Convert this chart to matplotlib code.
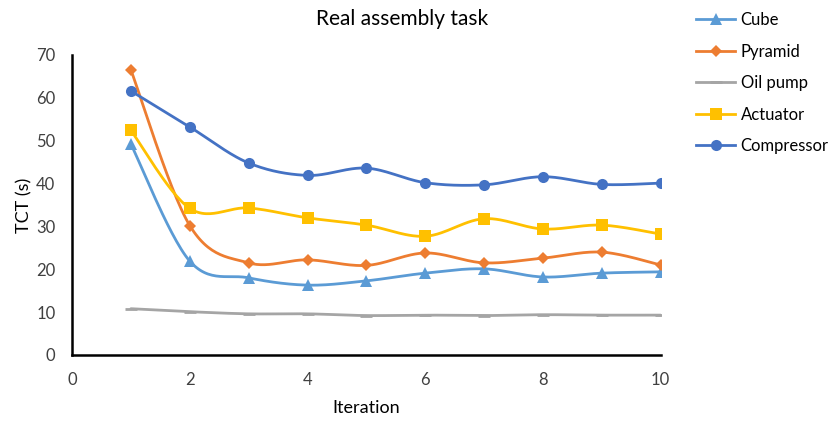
import numpy as np
import matplotlib
matplotlib.use("Agg")
import matplotlib.pyplot as plt

plt.rcParams['font.family'] = ['Lato', 'DejaVu Sans']

iterations = [1, 2, 3, 4, 5, 6, 7, 8, 9, 10]
cube = [49.2, 21.9, 18.0, 16.3, 17.3, 19.1, 20.1, 18.2, 19.1, 19.4]
pyramid = [66.5, 30.2, 21.5, 22.2, 20.9, 23.8, 21.5, 22.6, 24.0, 21.0]
oil_pump = [10.8, 10.1, 9.6, 9.6, 9.2, 9.3, 9.2, 9.4, 9.3, 9.3]
actuator = [52.4, 34.2, 34.3, 32.0, 30.3, 27.7, 31.8, 29.4, 30.3, 28.2]
compressor = [61.6, 53.2, 44.8, 41.9, 43.6, 40.2, 39.7, 41.6, 39.8, 40.1]

series = [
    ("Cube", cube, "#5B9BD5", "^", 8),
    ("Pyramid", pyramid, "#ED7D31", "D", 6),
    ("Oil pump", oil_pump, "#A5A5A5", "_", 9),
    ("Actuator", actuator, "#FFC000", "s", 8),
    ("Compressor", compressor, "#4472C4", "o", 8),
]


def smooth(xs, ys, n=30):
    """Cardinal (Catmull-Rom) Bezier smoothing through every point."""
    p = np.column_stack([xs, ys]).astype(float)
    ext = np.vstack([p[0], p, p[-1]])
    out = []
    t = np.linspace(0, 1, n)[:, None]
    for i in range(len(p) - 1):
        p0, p3 = ext[i + 1], ext[i + 2]
        c1 = p0 + (ext[i + 2] - ext[i]) / 6.0
        c2 = p3 - (ext[i + 3] - ext[i + 1]) / 6.0
        seg = ((1 - t) ** 3) * p0 + 3 * ((1 - t) ** 2) * t * c1 \
            + 3 * (1 - t) * t ** 2 * c2 + t ** 3 * p3
        out.append(seg if i == 0 else seg[1:])
    out = np.vstack(out)
    return out[:, 0], out[:, 1]


fig = plt.figure(figsize=(8.29, 4.21), dpi=100)
ax = fig.add_axes([0.0869, 0.1568, 0.7101, 0.7126])

handles = []
for name, vals, color, marker, ms in series:
    sx, sy = smooth(iterations, vals)
    ax.plot(sx, sy, color=color, lw=2.0, solid_capstyle='round', zorder=2)
    mew = 2.0 if marker == "_" else 0
    ax.plot(iterations, vals, linestyle='none', marker=marker, ms=ms,
            color=color, mew=mew, zorder=3)
    h, = ax.plot([], [], color=color, lw=2.0, marker=marker, ms=ms,
                 mew=mew, label=name)
    handles.append(h)

ax.set_xlim(0, 10)
ax.set_ylim(0, 70)
ax.set_xticks(range(0, 11, 2))
ax.set_yticks(range(0, 71, 10))
for s in ("top", "right"):
    ax.spines[s].set_visible(False)
for s in ("left", "bottom"):
    ax.spines[s].set_linewidth(1.8)
    ax.spines[s].set_color("black")
ax.tick_params(length=0, labelsize=12, colors="#404040")
ax.tick_params(axis='y', pad=12)
ax.tick_params(axis='x', pad=12)

ax.set_xlabel("Iteration", fontsize=13, color="black", labelpad=9)
ax.set_ylabel("TCT (s)", fontsize=13, color="black", labelpad=3)
fig.text(0.485, 0.955, "Real assembly task", ha="center", va="center",
         fontsize=15, color="black")

fig.legend(handles=handles, loc="upper left", bbox_to_anchor=(0.832, 0.987),
           frameon=False, fontsize=12, handlelength=2.3, handletextpad=0.35,
           labelspacing=0.93, borderaxespad=0)

fig.savefig("out.png", dpi=100)
